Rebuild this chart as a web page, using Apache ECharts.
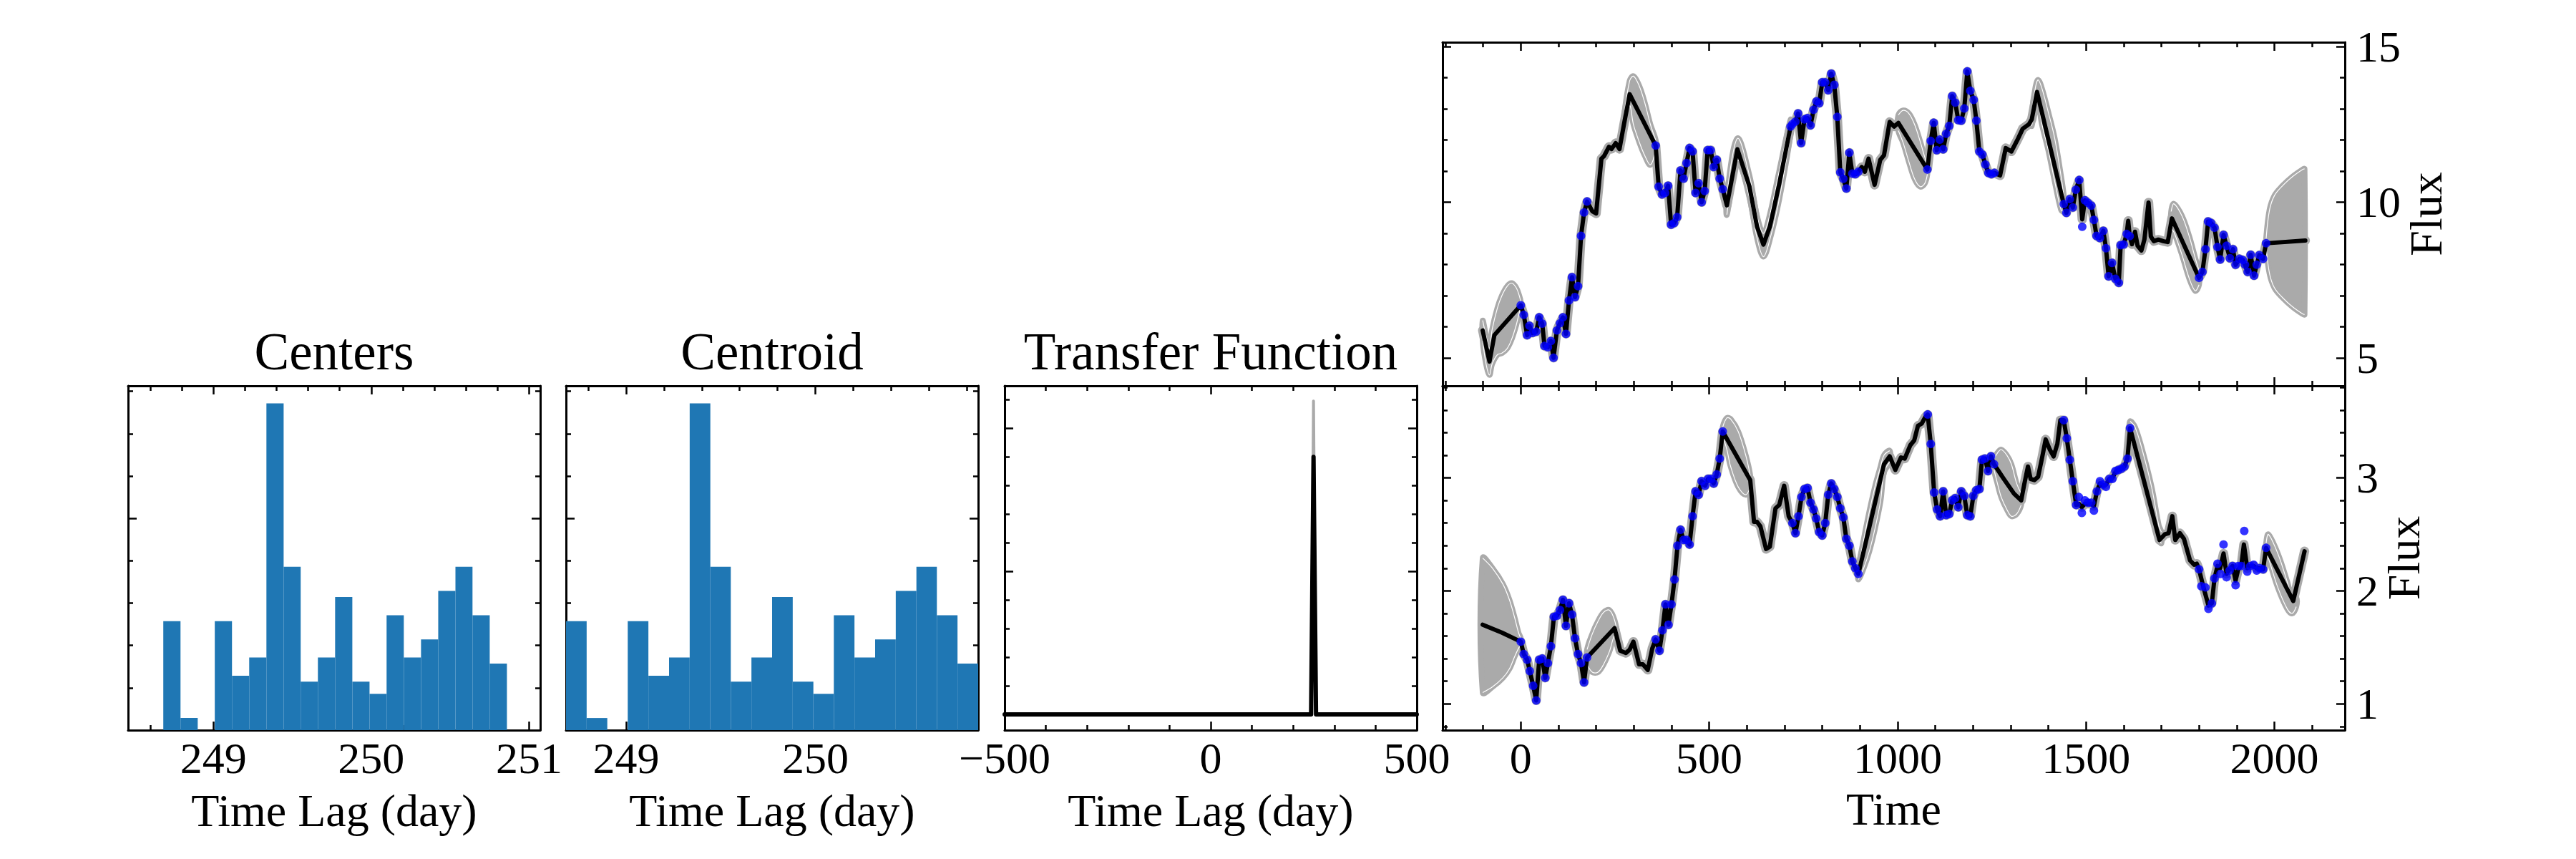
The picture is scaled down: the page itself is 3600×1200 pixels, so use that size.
<!DOCTYPE html>
<html><head><meta charset="utf-8">
<script src="https://cdn.jsdelivr.net/npm/echarts@6.0.0/dist/echarts.min.js"></script>
<style>html,body{margin:0;padding:0;background:#fff}#c{width:3600px;height:1200px}</style>
</head><body><div id="c"></div>
<script>
// ---------------- DATA ----------------
const panelTitles = ['Centers', 'Centroid', 'Transfer Function'];
const histEdges = [248.683, 248.792, 248.901, 249.009, 249.118, 249.227, 249.336, 249.445, 249.553, 249.662,
  249.771, 249.880, 249.989, 250.097, 250.206, 250.315, 250.424, 250.533, 250.641, 250.750, 250.859];
const centersCounts = [18, 2, 0, 18, 9, 12, 54, 27, 8, 12, 22, 8, 6, 19, 12, 15, 23, 27, 19, 11];
const centroidCounts = [18, 2, 0, 18, 9, 12, 54, 27, 8, 12, 22, 8, 6, 19, 12, 15, 23, 27, 19, 11];

// transfer function (lag, amplitude) and upper uncertainty at the peak
const tfLine = [[-500, 0], [243.5, 0], [249.4, 9.0], [255.5, 0], [500, 0]];
const tfUpper = [[243.5, 0], [249.4, 10.95], [255.5, 0]];

// top light curve: observations and model
const topObs = [[0,6.69],[8,6.38],[17,5.73],[23,6.03],[31,5.80],[41,5.84],[49,6.30],[57,6.10],[63,5.38],[72,5.34],[80,5.54],[87,5.00],[96,5.88],[104,6.11],[112,6.30],[120,5.77],[128,6.84],[136,7.59],[144,6.95],[152,7.30],[160,8.92],[168,9.67],[176,10.02],
[358,11.82],[366,10.50],[375,10.25],[383,10.30],[391,10.53],[399,9.28],[407,9.33],[415,9.52],[424,11.02],[432,10.76],[440,11.26],[448,11.74],[456,11.63],[464,10.30],[472,10.61],[480,10.00],[488,10.36],[496,11.67],[504,11.67],[512,11.13],[520,11.36],[528,10.76],[536,10.42],
[716,12.43],[721,12.51],[729,12.59],[736,12.85],[744,11.90],[753,12.66],[761,12.70],[769,12.47],[777,12.97],[785,13.24],[792,13.18],[800,13.85],[808,13.85],[816,13.60],[824,14.13],[832,13.77],[840,12.74],[848,10.96],[856,10.75],[864,10.44],[872,11.59],[880,10.92],[888,10.90],[896,10.98],
[1079,11.05],[1088,11.97],[1096,12.55],[1104,11.67],[1112,12.01],[1121,11.70],[1129,12.20],[1137,12.45],[1145,13.41],[1153,13.20],[1161,12.64],[1169,12.62],[1177,13.01],[1185,14.20],[1193,13.58],[1202,13.29],[1209,12.62],[1217,11.63],[1225,11.53],[1233,11.21],[1241,10.94],[1249,10.90],[1257,10.94],
[1441,9.94],[1448,9.66],[1457,10.10],[1465,9.83],[1473,10.40],[1482,10.71],[1490,9.21],[1497,10.06],[1505,9.98],[1514,9.89],[1521,9.43],[1528,8.92],[1537,8.85],[1546,9.08],[1553,8.52],[1560,7.62],[1569,8.05],[1578,7.54],[1587,7.41],[1592,8.62],[1600,8.64],[1608,8.98],[1616,8.91],
[1800,7.57],[1809,7.76],[1817,8.49],[1824,9.38],[1832,9.33],[1841,9.18],[1849,8.56],[1856,8.16],[1865,8.95],[1873,8.60],[1882,8.20],[1890,8.49],[1897,7.99],[1907,8.18],[1916,8.14],[1922,7.99],[1929,7.76],[1937,8.31],[1946,7.64],[1953,7.99],[1960,8.30],[1970,8.18],[1978,8.68]];

const topModel = [[-101,5.88],[-83,4.88],[-70,5.73],[0,6.69],[8,6.38],[17,5.73],[23,6.03],[31,5.80],[41,5.84],[49,6.30],[57,6.10],[63,5.38],[72,5.34],[80,5.54],[87,5.00],[96,5.88],[104,6.11],[112,6.30],[120,5.77],[128,6.84],[136,7.59],[144,6.95],[152,7.30],[160,8.92],[168,9.67],[176,10.02],
[190,9.71],[200,9.64],[214,11.40],[221,11.48],[234,11.78],[241,11.71],[252,11.90],[262,11.71],[274,12.51],[289,13.47],
[358,11.82],[366,10.50],[375,10.25],[383,10.30],[391,10.53],[399,9.28],[407,9.33],[415,9.52],[424,11.02],[432,10.76],[440,11.26],[448,11.74],[456,11.63],[464,10.30],[472,10.61],[480,10.00],[488,10.36],[496,11.67],[504,11.67],[512,11.13],[520,11.36],[528,10.76],[536,10.42],
[547,9.90],[575,11.70],[607,10.50],[627,9.21],[644,8.64],[661,9.21],[686,10.59],
[716,12.43],[721,12.51],[729,12.59],[736,12.85],[744,11.90],[753,12.66],[761,12.70],[769,12.47],[777,12.97],[785,13.24],[792,13.18],[800,13.85],[808,13.85],[816,13.60],[824,14.13],[832,13.77],[840,12.74],[848,10.96],[856,10.75],[864,10.44],[872,11.59],[880,10.92],[888,10.90],[896,10.98],
[905,11.13],[913,10.98],[923,11.40],[939,10.56],[954,11.36],[964,11.51],[979,12.58],[991,12.43],[1002,12.55],
[1079,11.05],[1088,11.97],[1096,12.55],[1104,11.67],[1112,12.01],[1121,11.70],[1129,12.20],[1137,12.45],[1145,13.41],[1153,13.20],[1161,12.64],[1169,12.62],[1177,13.01],[1185,14.20],[1193,13.58],[1202,13.29],[1209,12.62],[1217,11.63],[1225,11.53],[1233,11.21],[1241,10.94],[1249,10.90],[1257,10.94],
[1272,10.86],[1287,11.74],[1302,11.63],[1320,12.05],[1332,12.36],[1349,12.51],[1356,12.66],[1370,13.54],
[1441,9.94],[1448,9.66],[1457,10.10],[1465,9.83],[1473,10.40],[1482,10.71],[1490,9.45],[1497,10.06],[1505,9.98],[1514,9.89],[1521,9.43],[1528,8.92],[1537,8.85],[1546,9.08],[1553,8.52],[1560,7.62],[1569,8.05],[1578,7.54],[1587,7.41],[1592,8.62],[1600,8.64],[1608,8.98],[1612,9.40],[1616,8.91],
[1622,8.65],[1630,9.05],[1637,8.60],[1647,8.45],[1655,8.80],[1666,9.99],[1672,8.90],[1680,8.75],[1692,8.80],[1705,8.75],[1717,8.72],[1728,9.48],
[1800,7.57],[1809,7.76],[1817,8.49],[1824,9.38],[1832,9.33],[1841,9.18],[1849,8.56],[1856,8.16],[1865,8.95],[1873,8.60],[1882,8.20],[1890,8.49],[1897,7.99],[1907,8.18],[1916,8.14],[1922,7.99],[1929,7.76],[1937,8.31],[1946,7.64],[1953,7.99],[1960,8.30],[1970,8.18],[1978,8.68],
[2082,8.77]];

// uncertainty lenses in observing gaps: [time, lower, upper]
const topLenses = [
  [[-101,5.55,6.2],[-92,4.8,5.7],[-83,4.45,5.3],[-76,4.8,5.9],[-62,5.1,6.6],[-50,5.15,7.0],[-36,5.3,7.3],[-24,5.6,7.4],[-12,6.05,7.25],[-4,6.45,7.0],[0,6.6,6.8]],
  [[274,12.3,12.75],[289,13.1,13.9],[299,12.5,14.05],[314,11.95,13.75],[329,11.5,13.2],[344,11.2,12.5],[358,11.65,12.0]],
  [[547,9.6,10.2],[575,11.35,12.05],[607,10.15,10.85],[627,8.85,9.55],[644,8.25,9.0],[661,8.8,9.6],[686,10.1,11.0],[716,12.2,12.65]],
  [[1002,12.3,12.8],[1015,11.9,12.95],[1030,11.3,12.85],[1045,10.75,12.5],[1060,10.5,11.95],[1072,10.6,11.45],[1079,10.9,11.2]],
  [[1356,12.45,12.85],[1366,13.1,13.7],[1373,13.2,13.93],[1383,12.51,13.66],[1400,11.67,12.89],[1417,10.67,12.05],[1434,9.75,10.82],[1441,9.7,10.2]],
  [[1726,9.15,9.7],[1733,9.05,9.95],[1755,8.3,9.55],[1774,7.55,8.9],[1790,7.15,8.2],[1800,7.35,7.8]],
  [[1978,8.55,8.83],[1987,7.71,9.75],[2000,7.25,10.21],[2021,6.94,10.52],[2048,6.64,10.82],[2075,6.41,11.05],[2080,6.39,11.07]]
];

// bottom light curve
const botObs = [[0,1.55],[8,1.44],[17,1.39],[24,1.29],[33,1.16],[41,1.03],[49,1.39],[57,1.40],[65,1.23],[72,1.36],[80,1.51],[88,1.77],[96,1.78],[104,1.83],[112,1.92],[120,1.69],[128,1.89],[136,1.79],[144,1.58],[152,1.44],[160,1.36],[168,1.19],[176,1.41],
[358,1.57],[368,1.47],[376,1.65],[384,1.88],[392,1.70],[400,1.88],[408,2.10],[416,2.40],[424,2.54],[432,2.45],[440,2.45],[448,2.41],[456,2.66],[464,2.88],[472,2.85],[480,2.97],[489,2.93],[497,2.99],[505,2.99],[512,2.95],[520,3.03],[528,3.17],[536,3.41],
[721,2.60],[729,2.51],[737,2.66],[745,2.83],[753,2.90],[761,2.91],[769,2.78],[777,2.72],[784,2.64],[792,2.52],[800,2.49],[808,2.60],[816,2.85],[824,2.95],[832,2.90],[840,2.83],[848,2.73],[856,2.65],[864,2.46],[872,2.40],[880,2.26],[888,2.20],[896,2.15],
[1080,3.56],[1088,3.30],[1097,2.87],[1105,2.72],[1113,2.66],[1121,2.88],[1129,2.67],[1137,2.68],[1145,2.80],[1153,2.82],[1161,2.74],[1169,2.88],[1177,2.84],[1185,2.67],[1193,2.66],[1201,2.84],[1209,2.89],[1217,2.90],[1224,3.16],[1232,3.17],[1240,3.06],[1248,3.19],[1256,3.12],
[1441,3.51],[1449,3.35],[1457,3.16],[1465,2.97],[1474,2.76],[1481,2.83],[1489,2.69],[1497,2.80],[1505,2.78],[1514,2.78],[1521,2.71],[1529,2.88],[1537,2.97],[1545,2.94],[1553,2.92],[1562,2.99],[1570,2.99],[1578,3.06],[1586,3.07],[1594,3.08],[1602,3.10],[1610,3.17],[1617,3.44],
[1800,2.19],[1806,2.04],[1817,2.03],[1825,1.84],[1834,1.89],[1841,2.11],[1849,2.24],[1857,2.15],[1865,2.41],[1873,2.12],[1881,2.18],[1889,2.22],[1897,2.05],[1904,2.22],[1912,2.22],[1920,2.53],[1928,2.17],[1936,2.22],[1945,2.23],[1953,2.18],[1961,2.20],[1970,2.19],[1978,2.38]];

const botModel = [[-101,1.70],[-50,1.63],[0,1.55],[8,1.44],[17,1.39],[24,1.29],[33,1.16],[41,1.03],[49,1.39],[57,1.40],[65,1.23],[72,1.36],[80,1.51],[88,1.77],[96,1.78],[104,1.83],[112,1.92],[120,1.69],[128,1.89],[136,1.79],[144,1.58],[152,1.44],[160,1.36],[168,1.19],[176,1.41],
[249,1.67],[264,1.47],[279,1.45],[289,1.48],[299,1.55],[314,1.35],[324,1.35],[337,1.30],[349,1.49],
[358,1.57],[368,1.47],[376,1.65],[384,1.88],[392,1.70],[400,1.88],[408,2.10],[416,2.40],[424,2.54],[432,2.45],[440,2.45],[448,2.41],[456,2.66],[464,2.88],[472,2.85],[480,2.97],[489,2.93],[497,2.99],[505,2.99],[512,2.95],[520,3.03],[528,3.17],[536,3.41],
[609,2.98],[619,2.61],[627,2.61],[636,2.57],[651,2.37],[661,2.39],[676,2.73],[686,2.76],[699,2.93],[711,2.66],
[721,2.60],[729,2.51],[737,2.66],[745,2.83],[753,2.90],[761,2.91],[769,2.78],[777,2.72],[784,2.64],[792,2.52],[800,2.49],[808,2.60],[816,2.85],[824,2.95],[832,2.90],[840,2.83],[848,2.73],[856,2.65],[864,2.46],[872,2.40],[880,2.26],[888,2.20],[896,2.15],
[964,3.12],[979,3.19],[994,3.07],[1009,3.18],[1019,3.17],[1034,3.29],[1044,3.33],[1054,3.46],[1064,3.48],[1074,3.54],
[1080,3.56],[1088,3.30],[1097,2.87],[1105,2.72],[1113,2.66],[1121,2.88],[1129,2.67],[1137,2.68],[1145,2.80],[1153,2.82],[1161,2.74],[1169,2.88],[1177,2.84],[1185,2.67],[1193,2.66],[1201,2.84],[1209,2.89],[1217,2.90],[1224,3.16],[1232,3.17],[1240,3.06],[1248,3.19],[1256,3.12],
[1282,2.99],[1309,2.86],[1328,2.80],[1336,2.94],[1346,3.10],[1353,2.99],[1363,2.98],[1373,3.01],[1383,3.17],[1393,3.34],[1404,3.25],[1414,3.19],[1424,3.30],[1432,3.51],
[1441,3.51],[1449,3.35],[1457,3.16],[1465,2.97],[1474,2.76],[1481,2.77],[1489,2.74],[1497,2.77],[1505,2.77],[1514,2.77],[1521,2.75],[1529,2.88],[1537,2.95],[1545,2.93],[1553,2.94],[1562,2.99],[1570,3.00],[1578,3.05],[1586,3.07],[1594,3.08],[1602,3.10],[1610,3.17],[1617,3.44],
[1695,2.45],[1709,2.50],[1719,2.51],[1729,2.66],[1737,2.45],[1749,2.51],[1760,2.46],[1776,2.27],[1787,2.23],[1794,2.24],
[1800,2.19],[1811,2.04],[1825,1.87],[1834,1.89],[1841,2.11],[1849,2.22],[1856,2.20],[1865,2.33],[1873,2.15],[1881,2.19],[1889,2.22],[1897,2.09],[1904,2.19],[1912,2.22],[1919,2.41],[1928,2.20],[1936,2.22],[1945,2.22],[1953,2.20],[1961,2.20],[1970,2.19],[1978,2.38],
[2050,1.91],[2080,2.35]];

const botLenses = [
  [[-101,1.10,2.29],[-75,1.15,2.20],[-47.5,1.23,2.06],[-30,1.31,1.92],[-16,1.42,1.76],[-6,1.49,1.63],[0,1.52,1.58]],
  [[176,1.35,1.48],[190,1.28,1.62],[205,1.28,1.73],[220,1.35,1.81],[235,1.46,1.83],[249,1.60,1.74],[258,1.50,1.58]],
  [[536,3.37,3.45],[547,3.25,3.53],[557,3.10,3.52],[577,2.92,3.41],[597,2.85,3.20],[609,2.92,3.02]],
  [[896,2.10,2.20],[910,2.20,2.45],[925,2.35,2.70],[940,2.55,2.92],[955,2.80,3.10],[964,3.05,3.20],[979,3.14,3.24]],
  [[1256,3.07,3.17],[1265,2.95,3.22],[1275,2.83,3.25],[1290,2.72,3.20],[1302,2.66,3.12],[1316,2.68,2.95],[1328,2.76,2.86]],
  [[1617,3.38,3.50],[1630,3.22,3.45],[1649,3.00,3.25],[1674,2.70,2.92],[1693,2.46,2.58],[1700,2.42,2.52]],
  [[1978,2.34,2.42],[1984,2.29,2.50],[2009,2.03,2.33],[2034,1.84,2.08],[2047,1.80,1.93],[2058,1.86,1.94]]
];

// ---------------- STYLE / LAYOUT ----------------
const FONT = 'Liberation Serif';
const GREY = '#aaaaaa';
const grids = [
  {left: 179, top: 539, width: 576, height: 481},
  {left: 791, top: 539, width: 576, height: 481},
  {left: 1404, top: 539, width: 576, height: 481},
  {left: 2016, top: 59, width: 1261, height: 480},
  {left: 2016, top: 539, width: 1261, height: 481}
];

function isMult(v, m) { const q = v / m; return Math.abs(q - Math.round(q)) < 1e-6; }
function fmtMajor(m) {
  return function (v) {
    if (!isMult(v, m)) return '';
    const r = Math.round(v);
    return r < 0 ? '\u2212' + Math.abs(r) : String(r);
  };
}
function mkAxis(gi, pos, min, max, major, showLabel, extra) {
  const a = {
    type: 'value', gridIndex: gi, position: pos, min: min, max: max,
    minInterval: major, maxInterval: major, splitNumber: 5,
    axisLine: {show: true, onZero: false, lineStyle: {color: '#000', width: 3}},
    axisTick: {show: true, inside: true, length: 12, lineStyle: {color: '#000', width: 2.5}},
    minorTick: {show: true, splitNumber: 5, length: 7, lineStyle: {color: '#000', width: 2.5}},
    splitLine: {show: false}, minorSplitLine: {show: false},
    axisLabel: {show: showLabel, formatter: fmtMajor(major), margin: (pos === 'right' ? 16 : 8),
      fontSize: 62, fontFamily: FONT, color: '#000', showMinLabel: true, showMaxLabel: true}
  };
  return Object.assign(a, extra || {});
}
function nameOpt(name, gap, rot) {
  const o = {name: name, nameLocation: 'middle', nameGap: gap,
    nameTextStyle: {fontSize: 64, fontFamily: FONT, color: '#000'}};
  if (rot != null) o.nameRotate = rot;
  return o;
}

// axis ranges [min, max, major]
const xr = [[248.46, 251.07, 1], [248.683, 250.859, 1], [-500, 500, 500], [-207.5, 2187, 500], [-207.5, 2187, 500]];
const yr = [[0, 56.9, 35], [0, 56.9, 35], [-0.55, 11.48, 5], [4.1, 15.14, 5], [0.767, 3.814, 1]];

const xAxis = [], yAxis = [];
for (let g = 0; g < 5; g++) {
  const showX = g !== 3;
  let xName = null;
  if (g < 3) xName = nameOpt('Time Lag (day)', 80);
  if (g === 4) xName = nameOpt('Time', 78);
  xAxis.push(mkAxis(g, 'bottom', xr[g][0], xr[g][1], xr[g][2], showX, xName));
  xAxis.push(mkAxis(g, 'top', xr[g][0], xr[g][1], xr[g][2], false));
  yAxis.push(mkAxis(g, 'left', yr[g][0], yr[g][1], yr[g][2], false));
  let yName = null;
  if (g === 3) yName = nameOpt('Flux', 80, 90);
  if (g === 4) yName = nameOpt('Flux', 50, 90);
  yAxis.push(mkAxis(g, 'right', yr[g][0], yr[g][1], yr[g][2], g >= 3, yName));
}

function histSeries(g, edges, counts) {
  return {
    type: 'custom', xAxisIndex: 2 * g, yAxisIndex: 2 * g, clip: true, silent: true,
    data: counts.map((c, i) => [edges[i], edges[i + 1], c]),
    encode: {x: [0, 1], y: 2},
    renderItem: function (params, api) {
      const a = api.coord([api.value(0), api.value(2)]);
      const b = api.coord([api.value(1), 0]);
      return {type: 'rect', shape: {x: a[0], y: a[1], width: b[0] - a[0], height: b[1] - a[1]},
        style: {fill: '#1f77b4'}};
    }
  };
}
function lensSeries(g, lenses) {
  return {
    type: 'custom', xAxisIndex: 2 * g, yAxisIndex: 2 * g, clip: true, silent: true, z: 2,
    data: lenses.map((L, k) => [L[0][0], L[0][1], k]),
    renderItem: function (params, api) {
      const L = lenses[params.dataIndex];
      const up = L.map(p => api.coord([p[0], p[2]]));
      const dn = L.map(p => api.coord([p[0], p[1]]));
      const poly = up.concat(dn.slice().reverse());
      return {type: 'group', children: [
        {type: 'polygon', shape: {points: poly, smooth: 0.35}, style: {fill: GREY, stroke: GREY, lineWidth: 8, lineJoin: 'round'}},
        {type: 'polyline', shape: {points: up, smooth: 0.35}, style: {stroke: '#ffffff', lineWidth: 1.2, fill: null}},
        {type: 'polyline', shape: {points: dn, smooth: 0.35}, style: {stroke: '#ffffff', lineWidth: 1.2, fill: null}}
      ]};
    }
  };
}
function lineSeries(g, data, color, width, z) {
  return {type: 'line', xAxisIndex: 2 * g, yAxisIndex: 2 * g, data: data, showSymbol: false, symbol: 'none',
    silent: true, z: z, lineStyle: {color: color, width: width, join: 'round', cap: 'round'}};
}
function dotSeries(g, data) {
  return {type: 'scatter', xAxisIndex: 2 * g, yAxisIndex: 2 * g, data: data, symbolSize: 12, silent: true, z: 4,
    itemStyle: {color: '#0000ff'}};
}

const series = [
  histSeries(0, histEdges, centersCounts),
  histSeries(1, histEdges, centroidCounts),
  lineSeries(2, tfUpper, GREY, 4, 2),
  lineSeries(2, tfLine, '#000', 6, 3),
  lineSeries(3, topModel, GREY, 13, 1),
  lensSeries(3, topLenses),
  lineSeries(3, topModel, '#000', 6, 3),
  dotSeries(3, topObs),
  lineSeries(4, botModel, GREY, 13, 1),
  lensSeries(4, botLenses),
  lineSeries(4, botModel, '#000', 6, 3),
  dotSeries(4, botObs)
];

const titleGraphics = panelTitles.map((t, i) => ({
  type: 'text', x: grids[i].left + grids[i].width / 2, y: 491,
  style: {text: t, fontSize: 73, fontFamily: FONT, fill: '#000', textAlign: 'center', textVerticalAlign: 'middle'}
}));

const chart = echarts.init(document.getElementById('c'), null, {renderer: 'svg', width: 3600, height: 1200});
chart.setOption({
  animation: false,
  backgroundColor: '#ffffff',
  grid: grids.map(g => Object.assign({containLabel: false}, g)),
  xAxis: xAxis,
  yAxis: yAxis,
  series: series,
  graphic: titleGraphics
});
</script></body></html>
